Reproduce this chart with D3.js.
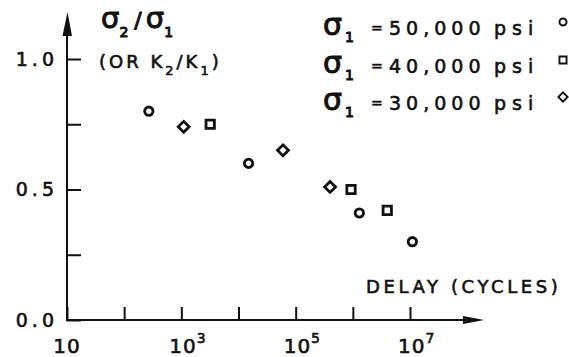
<!DOCTYPE html>
<html>
<head>
<meta charset="utf-8">
<script src="https://cdn.jsdelivr.net/npm/d3@7"></script>
<style>
  body { margin: 0; background: #fff; }
  text { font-family: "DejaVu Sans", sans-serif; fill: #111; stroke: #111; stroke-width: 0.6px; }
</style>
</head>
<body>
<div class="chart"></div>
<script>
// data: delay (cycles) vs. sigma2/sigma1
var circleDelay  = [270, 1.5e4, 1.3e6, 1.1e7];
var circleRatio  = [0.80, 0.60, 0.41, 0.30];
var squareDelay  = [3.2e3, 9.3e5, 4.0e6];
var squareRatio  = [0.75, 0.50, 0.42];
var diamondDelay = [1.1e3, 6.0e4, 4.0e5];
var diamondRatio = [0.74, 0.65, 0.51];

var xTicks = [1e1, 1e2, 1e3, 1e4, 1e5, 1e6, 1e7];
var xLabels = [{v: 1e1, base: "10", exp: ""}, {v: 1e3, base: "10", exp: "3"},
               {v: 1e5, base: "10", exp: "5"}, {v: 1e7, base: "10", exp: "7"}];
var yTicks = [0, 0.25, 0.5, 0.75, 1.0];
var yLabels = {0: "0.0", 0.5: "0.5", 1: "1.0"};
var legendStress = ["50,000", "40,000", "30,000"];

var width = 569, height = 357;

// set the ranges
var x = d3.scaleLog().domain([10, 1e7]).range([67, 410]);
var y = d3.scaleLinear().domain([0, 1]).range([320, 59]);

var svg = d3.select(".chart").append("svg")
    .attr("width", width)
    .attr("height", height);

// x axis: ticks pointing up, labels drawn by hand for the powers
svg.append("g")
    .attr("transform", "translate(0," + y(0) + ")")
    .call(d3.axisBottom(x).tickValues(xTicks).tickSizeInner(-13).tickSizeOuter(0).tickFormat(""))
    .call(function(g) { g.select(".domain").remove(); })
    .selectAll("line").attr("stroke", "#111").attr("stroke-width", 2);

svg.append("line")
    .attr("x1", x(10)).attr("x2", 468)
    .attr("y1", y(0)).attr("y2", y(0))
    .attr("stroke", "#111").attr("stroke-width", 2);
svg.append("path")
    .attr("d", "M463," + (y(0) - 4) + " L484," + y(0) + " L463," + (y(0) + 4) + "Z")
    .attr("fill", "#111");

var xl = svg.append("g").selectAll("text")
    .data(xLabels)
  .enter().append("text")
    .attr("x", function(d) { return d.exp ? x(d.v) - 12 : x(d.v); })
    .attr("y", 353)
    .attr("text-anchor", function(d) { return d.exp ? "start" : "middle"; })
    .style("font-size", "20px")
    .style("letter-spacing", "1px");
xl.append("tspan").text(function(d) { return d.base; });
xl.append("tspan")
    .attr("dy", -10)
    .style("font-size", "14px")
    .text(function(d) { return d.exp; });

// y axis: ticks pointing right
svg.append("g")
    .attr("transform", "translate(" + x(10) + ",0)")
    .call(d3.axisLeft(y).tickValues(yTicks).tickSizeInner(-14).tickSizeOuter(0).tickPadding(9)
        .tickFormat(function(d) { return yLabels[d] || ""; }))
    .call(function(g) { g.select(".domain").remove(); })
    .call(function(g) {
      g.selectAll("line").attr("stroke", "#111").attr("stroke-width", 2);
      g.selectAll("text").attr("fill", "#111").attr("stroke", "#111").attr("stroke-width", 0.6)
        .style("font-family", "DejaVu Sans, sans-serif")
        .style("font-size", "19px")
        .style("letter-spacing", "4px");
    });

svg.append("line")
    .attr("x1", x(10)).attr("x2", x(10))
    .attr("y1", y(0) + 1).attr("y2", 32)
    .attr("stroke", "#111").attr("stroke-width", 2);
svg.append("path")
    .attr("d", "M" + (x(10) - 4.5) + ",36 L" + (x(10) + 0.5) + ",12 L" + (x(10) + 5) + ",36Z")
    .attr("fill", "#111");

// axis titles
var t1 = svg.append("text").attr("x", 101).attr("y", 28)
    .style("font-size", "29px").style("stroke-width", "1px");
t1.append("tspan").text("σ");
t1.append("tspan").attr("dy", 9).style("font-size", "14px").text("2");
t1.append("tspan").attr("dy", -9).attr("dx", 6).style("font-size", "22px").text("/");
t1.append("tspan").attr("dx", 4).text("σ");
t1.append("tspan").attr("dy", 9).style("font-size", "14px").text("1");

var t2 = svg.append("text").attr("x", 99).attr("y", 68)
    .style("font-size", "18px").style("letter-spacing", "3px");
t2.append("tspan").text("(OR K");
t2.append("tspan").attr("dy", 7).style("font-size", "13px").text("2");
t2.append("tspan").attr("dy", -7).text("/K");
t2.append("tspan").attr("dy", 7).style("font-size", "13px").text("1");
t2.append("tspan").attr("dy", -7).text(")");

svg.append("text")
    .attr("x", 366).attr("y", 293)
    .style("font-size", "18px").style("letter-spacing", "3.6px")
    .text("DELAY (CYCLES)");

// symbols
var circle = d3.symbol().type(d3.symbolCircle).size(55);
var square = d3.symbol().type(d3.symbolSquare).size(70);
var diamond = d3.symbol().type(d3.symbolSquare).size(60);

function plot(xs, ys, sym, rot) {
  svg.append("g").selectAll("path")
      .data(xs)
    .enter().append("path")
      .attr("d", sym)
      .attr("transform", function(d, i) {
        return "translate(" + x(d) + "," + y(ys[i]) + ")" + (rot ? " rotate(45)" : "");
      })
      .attr("fill", "none")
      .attr("stroke", "#111")
      .attr("stroke-width", 2.8);
}
plot(circleDelay, circleRatio, circle, false);
plot(squareDelay, squareRatio, square, false);
plot(diamondDelay, diamondRatio, diamond, true);

// legend
var legendSym = [circle, square, diamond];
var legendRows = [35, 73, 110];
legendStress.forEach(function(s, i) {
  var by = legendRows[i];
  var t = svg.append("text").attr("x", 323).attr("y", by)
      .style("font-size", "30px").style("stroke-width", "1px");
  t.append("tspan").text("σ");
  t.append("tspan").attr("dx", 3).attr("dy", 7).style("font-size", "14px").text("1");
  svg.append("text").attr("x", 371).attr("y", by - 2).style("font-size", "14px").text("=");
  svg.append("text").attr("x", 389).attr("y", by)
      .style("font-size", "19px").style("letter-spacing", "5px").text(s);
  svg.append("text").attr("x", 494).attr("y", by)
      .style("font-size", "19px").style("letter-spacing", "6px").text("psi");
  svg.append("path")
      .attr("d", legendSym[i])
      .attr("transform", "translate(563," + (by - 13) + ")" + (i === 2 ? " rotate(45)" : "") + " scale(0.85)")
      .attr("fill", "none")
      .attr("stroke", "#111")
      .attr("stroke-width", 2.2);
});
</script>
</body>
</html>
